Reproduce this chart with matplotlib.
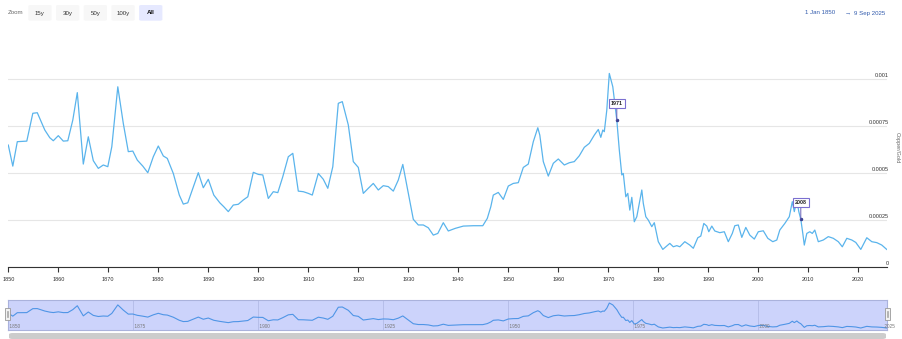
import numpy as np
from matplotlib import pyplot as plt
from matplotlib.patches import FancyBboxPatch, Rectangle

plt.rcParams['font.family'] = ['Liberation Sans', 'DejaVu Sans']

# copper / gold ratio
years = [
    1850.0, 1850.9, 1851.8, 1853.7, 1854.9, 1855.8, 1857.3, 1858.3, 1859.0, 1860.0,
    1861.0, 1861.9, 1862.9, 1863.8, 1865.0, 1866.0, 1867.0, 1868.0, 1869.0, 1869.9,
    1870.7, 1871.9, 1873.0, 1874.0, 1874.9, 1875.8, 1876.9, 1877.9, 1879.0, 1880.0,
    1881.0, 1881.8, 1883.0, 1884.2, 1885.0, 1885.9, 1886.9, 1888.0, 1889.0, 1890.0,
    1891.1, 1892.3, 1893.1, 1894.0, 1895.0, 1896.0, 1897.0, 1897.9, 1899.0, 1900.0,
    1900.9, 1902.0, 1903.0, 1903.9, 1904.9, 1906.0, 1906.9, 1908.0, 1909.0, 1910.0,
    1910.8, 1912.0, 1913.0, 1913.9, 1914.9, 1916.0, 1916.8, 1918.0, 1919.0, 1920.0,
    1921.0, 1922.0, 1923.0, 1924.0, 1925.0, 1926.0, 1927.0, 1928.0, 1928.9, 1930.0,
    1931.0, 1932.0, 1933.0, 1934.0, 1935.0, 1935.9, 1937.0, 1938.0, 1939.4, 1941.0,
    1943.0, 1944.9, 1945.8, 1946.5, 1947.0, 1948.0, 1949.0, 1950.0, 1951.0, 1952.0,
    1953.0, 1954.0, 1955.0, 1955.9, 1956.3, 1957.0, 1958.0, 1959.0, 1960.0, 1961.2,
    1962.2, 1963.2, 1964.2, 1965.2, 1966.2, 1967.2, 1968.0, 1968.5, 1968.9, 1969.2,
    1969.7, 1970.2, 1970.9, 1971.7, 1972.2, 1972.7, 1973.0, 1973.5, 1973.9, 1974.3,
    1974.7, 1975.2, 1975.7, 1976.2, 1976.7, 1977.0, 1977.5, 1978.0, 1978.7, 1979.2,
    1980.0, 1980.9, 1981.7, 1982.3, 1983.0, 1983.7, 1984.3, 1985.3, 1986.3, 1987.0,
    1987.9, 1988.5, 1989.1, 1989.7, 1990.1, 1990.7, 1991.3, 1992.3, 1993.2, 1994.0,
    1994.8, 1995.3, 1996.0, 1996.7, 1997.5, 1998.3, 1999.2, 2000.0, 2001.0, 2001.9,
    2002.9, 2003.7, 2004.3, 2005.3, 2006.2, 2006.8, 2007.2, 2007.7, 2008.1, 2008.5,
    2008.9, 2009.2, 2009.7, 2010.3, 2010.8, 2011.3, 2012.0, 2013.0, 2014.0, 2015.0,
    2016.0, 2016.8, 2017.7, 2018.7, 2019.5, 2020.5, 2021.7, 2022.7, 2023.7, 2024.7,
    2025.68,
]
ratio = [
    0.000647, 0.000535, 0.000665, 0.000668, 0.000816, 0.000819, 0.000727, 0.000686, 0.000670, 0.000697,
    0.000668, 0.000670, 0.000780, 0.000926, 0.000546, 0.000691, 0.000564, 0.000523, 0.000541, 0.000532,
    0.000638, 0.000957, 0.000762, 0.000612, 0.000615, 0.000567, 0.000535, 0.000500, 0.000585, 0.000642,
    0.000589, 0.000576, 0.000496, 0.000381, 0.000333, 0.000340, 0.000417, 0.000500, 0.000420, 0.000465,
    0.000381, 0.000340, 0.000319, 0.000293, 0.000328, 0.000332, 0.000355, 0.000372, 0.000502, 0.000491,
    0.000488, 0.000363, 0.000399, 0.000394, 0.000479, 0.000585, 0.000603, 0.000402, 0.000399, 0.000390,
    0.000381, 0.000496, 0.000465, 0.000417, 0.000532, 0.000869, 0.000878, 0.000754, 0.000559, 0.000528,
    0.000390, 0.000417, 0.000443, 0.000408, 0.000431, 0.000426, 0.000402, 0.000461, 0.000544, 0.000390,
    0.000252, 0.000222, 0.000222, 0.000207, 0.000168, 0.000177, 0.000234, 0.000190, 0.000204, 0.000216,
    0.000218, 0.000218, 0.000257, 0.000319, 0.000381, 0.000395, 0.000358, 0.000429, 0.000443, 0.000447,
    0.000528, 0.000546, 0.000665, 0.000739, 0.000700, 0.000559, 0.000482, 0.000550, 0.000573, 0.000541,
    0.000553, 0.000559, 0.000590, 0.000635, 0.000656, 0.000700, 0.000730, 0.000688, 0.000727, 0.000718,
    0.000833, 0.001028, 0.000957, 0.000780, 0.000621, 0.000488, 0.000496, 0.000372, 0.000390, 0.000301,
    0.000369, 0.000239, 0.000266, 0.000337, 0.000408, 0.000337, 0.000266, 0.000248, 0.000213, 0.000234,
    0.000133, 0.000092, 0.000110, 0.000124, 0.000106, 0.000112, 0.000106, 0.000133, 0.000115, 0.000098,
    0.000154, 0.000163, 0.000230, 0.000216, 0.000186, 0.000216, 0.000190, 0.000181, 0.000186, 0.000133,
    0.000177, 0.000218, 0.000222, 0.000156, 0.000209, 0.000168, 0.000147, 0.000186, 0.000191, 0.000151,
    0.000133, 0.000142, 0.000195, 0.000230, 0.000266, 0.000346, 0.000293, 0.000355, 0.000293, 0.000252,
    0.000177, 0.000115, 0.000177, 0.000186, 0.000177, 0.000195, 0.000133, 0.000142, 0.000160, 0.000151,
    0.000133, 0.000106, 0.000151, 0.000142, 0.000129, 0.000092, 0.000154, 0.000133, 0.000128, 0.000115,
    0.000092,
]

yticks = [0, 0.00025, 0.0005, 0.00075, 0.001]
ytick_labels = ['0', '0.00025', '0.0005', '0.00075', '0.001']
xticks = list(range(1850, 2030, 10))
nav_ticks = list(range(1850, 2030, 25))
flags = [(1971.7, '1971'), (2008.5, '2008')]
buttons = ['15y', '30y', '50y', '100y', 'All']

W, H = 903, 339


def fx(px):
    return px / W


def fy(py):
    return 1 - py / H


fig = plt.figure(figsize=(W / 100, H / 100), dpi=100)

# main plot
x0, x1 = 8.3, 886.7
ax = fig.add_axes([fx(x0), fy(266.7), (x1 - x0) / W, (266.7 - 40) / H])
ax.plot(years, ratio, color='#5ab4ec', lw=0.9, solid_joinstyle='round')
ax.set_xlim(1850, 2025.68)
ax.set_ylim(0, (266.7 - 40) / 188 * 0.001)
for s in ['top', 'left', 'right']:
    ax.spines[s].set_visible(False)
ax.spines['bottom'].set_color('#333333')
ax.spines['bottom'].set_linewidth(0.8)
ax.set_xticks(xticks)
ax.set_xticklabels([str(t) for t in xticks], fontsize=4, color='#333333')
ax.tick_params(axis='x', length=3.6, width=0.8, color='#333333', pad=4)
ax.set_yticks(yticks)
ax.set_yticklabels([])
ax.tick_params(axis='y', length=0)
ax.grid(axis='y', color='#e6e6e6', lw=0.8)
ax.set_axisbelow(True)
ytr = ax.get_yaxis_transform()
for v, lab in zip(yticks, ytick_labels):
    ax.text(1.002, v + 0.000006, lab, transform=ytr, ha='right', va='bottom',
            fontsize=4, color='#333333')
fig.text(fx(897), fy(148), 'Copper/Gold', rotation=270, ha='center', va='center',
         fontsize=4, color='#666666')

for yr, lab in flags:
    v = np.interp(yr, years, ratio)
    ax.annotate(lab, xy=(yr, v), xytext=(0, 12), textcoords='offset points',
                ha='center', va='center', fontsize=3.9, fontweight='bold', color='#222222',
                bbox=dict(boxstyle='square,pad=0.4', fc='white', ec='#7b6fd0', lw=0.8),
                arrowprops=dict(arrowstyle='-', color='#6a60b8', lw=0.7, shrinkA=0, shrinkB=0))
    ax.plot([yr], [v], 'o', ms=1.5, color='#3b3f8f')

# navigator
nav = fig.add_axes([fx(x0), fy(330), (x1 - x0) / W, 30 / H])
nav.set_facecolor('#ccd3fb')
nav.plot(years, ratio, color='#4f95e6', lw=0.8)
lo, hi = min(ratio), max(ratio)
span = hi - lo
nav.set_xlim(1850, 2025.68)
nav.set_ylim(lo - span * 0.08, hi + span * 0.12)
nav.set_xticks([])
nav.set_yticks([])
for s in nav.spines.values():
    s.set_color('#aab2dc')
    s.set_linewidth(0.8)
for t in nav_ticks:
    if 1850 < t < 2025:
        nav.axvline(t, color='#b2bae6', lw=0.6, zorder=0)
    nav.text(t, 0.05, ' ' + str(t), transform=nav.get_xaxis_transform(), ha='left', va='bottom',
             fontsize=3.4, color='#777777', clip_on=False)
for hx in (x0 - 1, x1 + 1):
    fig.patches.append(Rectangle((fx(hx - 2.5), fy(320)), 5 / W, 12 / H,
                                 transform=fig.transFigure, fc='#f2f2f2', ec='#999999', lw=0.6))
    fig.add_artist(plt.Line2D([fx(hx - 0.7), fx(hx - 0.7)], [fy(317), fy(311)], color='#999999', lw=0.5))
    fig.add_artist(plt.Line2D([fx(hx + 0.7), fx(hx + 0.7)], [fy(317), fy(311)], color='#999999', lw=0.5))

# scrollbar
fig.patches.append(FancyBboxPatch((fx(9), fy(339)), (886 - 9) / W, 6 / H,
                                  boxstyle='round,pad=0,rounding_size=0.004',
                                  transform=fig.transFigure, fc='#cccccc', ec='none'))

# range selector buttons
fig.text(fx(8), fy(13), 'Zoom', fontsize=4.4, color='#666666', ha='left', va='center')
for i, b in enumerate(buttons):
    bx = 28.3 + i * 27.7
    sel = b == 'All'
    fig.patches.append(FancyBboxPatch((fx(bx), fy(20.7)), 23.3 / W, 15.7 / H,
                                      boxstyle='round,pad=0,rounding_size=0.003',
                                      transform=fig.transFigure,
                                      fc='#e6e9ff' if sel else '#f7f7f7', ec='none'))
    fig.text(fx(bx + 11.65), fy(13), b, fontsize=4.4, color='#111111' if sel else '#333333',
             fontweight='bold' if sel else 'normal', ha='center', va='center')

fig.text(fx(820), fy(13), '1 Jan 1850', fontsize=4.4, color='#335cad', ha='center', va='center')
fig.text(fx(847.5), fy(13), '\u2192', fontsize=4.4, color='#335cad', ha='center', va='center')
fig.text(fx(870), fy(13), '9 Sep 2025', fontsize=4.4, color='#335cad', ha='center', va='center')

fig.savefig('out.png', dpi=100)
